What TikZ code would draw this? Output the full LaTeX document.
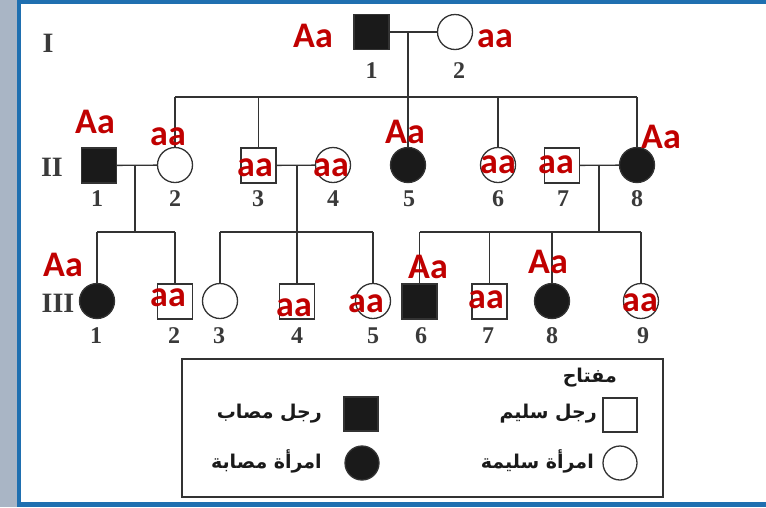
\documentclass[tikz,border=0pt]{standalone}
\usepackage{fontspec}
\setmainfont{Liberation Serif}
\newfontfamily\labelfont{Carlito}
\newfontfamily\arabicfont[Script=Arabic]{DejaVu Sans}
\TeXXeTstate=1
\definecolor{linegray}{HTML}{333333}
\definecolor{numgray}{HTML}{3A3A3A}
\definecolor{genred}{HTML}{C00000}
\definecolor{bandgray}{HTML}{A9B5C5}
\definecolor{frameblue}{HTML}{1F6FB0}
\definecolor{inkblack}{HTML}{1A1A1A}
\tikzset{
  kinline/.style={draw=linegray, line width=1.3pt},
  male/.style={rectangle, draw=linegray, line width=1.3pt, minimum size=35pt, inner sep=0pt, fill=white},
  female/.style={circle, draw=linegray, line width=1.3pt, minimum size=35pt, inner sep=0pt, fill=white},
  affected/.style={fill=inkblack},
  num/.style={font=\bfseries\fontsize{24}{24}\selectfont, text=numgray, anchor=base, inner sep=0pt},
  gen/.style={font=\bfseries\fontsize{28}{28}\selectfont, text=numgray, anchor=base, inner sep=0pt},
  geno/.style={font=\labelfont\bfseries\fontsize{36}{36}\selectfont, text=genred, anchor=base, inner sep=0pt, text depth=0pt},
  keytext/.style={font=\arabicfont\bfseries\fontsize{19}{19}\selectfont, text=inkblack, inner sep=0pt},
}
\begin{document}
\begin{tikzpicture}[x=1pt,y=-1pt]
% page frame
\useasboundingbox (0,0) rectangle (766,507);
\fill[white] (0,0) rectangle (766,507);
\fill[bandgray] (0,0) rectangle (17,507);
\fill[frameblue] (17,0) rectangle (21,507);
\fill[frameblue] (17,0) rectangle (766,4);
\fill[frameblue] (17,502) rectangle (766,507);

% generation labels
\node[gen] (gI) at (48,52) {I};
\node[gen] (gII) at (52,176) {II};
\node[gen] (gIII) at (58,312) {III};

% generation I
\node[male, affected] (I1) at (371.5,32) {};
\node[female] (I2) at (455,32) {};

% generation II
\node[male, affected] (II1) at (99,165.5) {};
\node[female] (II2) at (175,165) {};
\node[male] (II3) at (258.5,165.5) {};
\node[female] (II4) at (333,165) {};
\node[female, affected] (II5) at (408,165) {};
\node[female] (II6) at (498,165) {};
\node[male] (II7) at (562,165.5) {};
\node[female, affected] (II8) at (637,165) {};

% generation III
\node[female, affected] (III1) at (97,301) {};
\node[male] (III2) at (175,301.5) {};
\node[female] (III3) at (220,301) {};
\node[male] (III4) at (297,301.5) {};
\node[female] (III5) at (373,301) {};
\node[male, affected] (III6) at (419.5,301.5) {};
\node[male] (III7) at (489.5,301.5) {};
\node[female, affected] (III8) at (552,301) {};
\node[female] (III9) at (641,301) {};

% couples and descent lines
\coordinate (sibII) at (0,97);
\coordinate (sibIII) at (0,232);
\coordinate (dI) at (408,32);
\coordinate (dA) at (135,165.5);
\coordinate (dB) at (297,165.5);
\coordinate (dC) at (599,165.5);

\draw[kinline] (I1) -- (I2);
\draw[kinline] (dI) -- (dI |- sibII);
\draw[kinline] (II2.north |- sibII) -- (II8.north |- sibII);
\foreach \c in {II2,II3,II5,II6,II8}
  \draw[kinline] (\c.north |- sibII) -- (\c.north);

\draw[kinline] (II1) -- (II2);
\draw[kinline] (dA) -- (dA |- sibIII);
\draw[kinline] (III1.north |- sibIII) -- (III2.north |- sibIII);
\foreach \c in {III1,III2}
  \draw[kinline] (\c.north |- sibIII) -- (\c.north);

\draw[kinline] (II3) -- (II4);
\draw[kinline] (dB) -- (dB |- sibIII);
\draw[kinline] (III3.north |- sibIII) -- (III5.north |- sibIII);
\foreach \c in {III3,III4,III5}
  \draw[kinline] (\c.north |- sibIII) -- (\c.north);

\draw[kinline] (II7) -- (II8);
\draw[kinline] (dC) -- (dC |- sibIII);
\draw[kinline] (III6.north |- sibIII) -- (III9.north |- sibIII);
\foreach \c in {III6,III7,III8,III9}
  \draw[kinline] (\c.north |- sibIII) -- (\c.north);

% individual numbers
\node[num] (nI1) at (371.5,78) {1};
\node[num] (nI2) at (459,78) {2};
\foreach \c/\x/\t in {II1/97/1,II2/175/2,II3/258/3,II4/333/4,II5/409/5,II6/498/6,II7/563/7,II8/637/8}
  \node[num] (n\c) at (\x,206) {\t};
\foreach \c/\x/\t in {III1/96/1,III2/174/2,III3/219/3,III4/297/4,III5/373/5,III6/421/6,III7/488/7,III8/552/8,III9/643/9}
  \node[num] (n\c) at (\x,343) {\t};

% genotypes
\node[geno] (gtI1) at (313,47) {Aa};
\node[geno] (gtI2) at (495,47) {aa};
\node[geno] (gtII1) at (95,133) {Aa};
\node[geno] (gtII2) at (168,145) {aa};
\node[geno] (gtII3) at (255,176) {aa};
\node[geno] (gtII4) at (331,176) {aa};
\node[geno] (gtII5) at (405,143) {Aa};
\node[geno] (gtII6) at (498,173) {aa};
\node[geno] (gtII7) at (556,173) {aa};
\node[geno] (gtII8) at (661,148) {Aa};
\node[geno] (gtIII1) at (63,276) {Aa};
\node[geno] (gtIII2) at (168,306) {aa};
\node[geno] (gtIII4) at (294,316) {aa};
\node[geno] (gtIII5) at (366,312) {aa};
\node[geno] (gtIII6) at (428,278) {Aa};
\node[geno] (gtIII7) at (486,308) {aa};
\node[geno] (gtIII8) at (548,273) {Aa};
\node[geno] (gtIII9) at (640,311) {aa};

% key
\node[draw=linegray, line width=1.3pt, minimum width=481pt, minimum height=138pt, inner sep=0pt] (key) at (422.5,428) {};
\node[keytext, anchor=east] (keytitle) at (617,378) {\beginR مفتاح\endR};
\node[male, minimum size=34pt] (kM) at (620,415) {};
\node[female, minimum size=34pt] (kF) at (620,463) {};
\node[male, affected, minimum size=34pt] (kMa) at (361,414) {};
\node[female, affected, minimum size=34pt] (kFa) at (362,463) {};
\node[keytext, anchor=east] (tM) at (597,414) {\beginR رجل سليم\endR};
\node[keytext, anchor=east] (tF) at (594,461) {\beginR امرأة سليمة\endR};
\node[keytext, anchor=east] (tMa) at (322,414) {\beginR رجل مصاب\endR};
\node[keytext, anchor=east] (tFa) at (322,461) {\beginR امرأة مصابة\endR};
\end{tikzpicture}
\end{document}
